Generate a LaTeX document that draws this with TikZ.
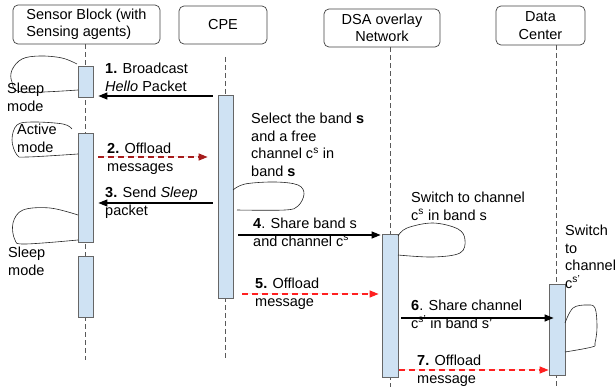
\documentclass[tikz,border=0pt]{standalone}
\usepackage{fontspec}
\setmainfont{Liberation Sans}
\usetikzlibrary{arrows.meta}
\definecolor{barfill}{HTML}{CFE2F3}
\definecolor{bardraw}{HTML}{666666}
\definecolor{darkred}{HTML}{A61C1C}
\definecolor{brightred}{HTML}{FF2020}
\newcommand\fs{\fontsize{14.5}{17.5}\selectfont}
\begin{document}
\begin{tikzpicture}[x=1pt,y=-1pt,
 hdr/.style={draw=black!75, line width=0.7pt, rounded corners=5pt, inner sep=0, font=\fs},
 actbar/.style={draw=bardraw, fill=barfill, line width=0.8pt, inner sep=0, minimum width=15pt},
 life/.style={draw=black!65, line width=0.7pt, dash pattern=on 5pt off 3pt},
 lbl/.style={anchor=north west, inner sep=0, align=left, font=\fs},
 msg/.style={line width=1.2pt, -{Triangle[length=9pt,width=7pt]}},
 dmsg/.style={msg, dash pattern=on 6pt off 4pt},
 freeloop/.style={draw=black!85, line width=0.6pt},
]
\useasboundingbox (0,0) rectangle (616,387);

% headers
\node[hdr, minimum width=147pt, minimum height=39pt, align=left] (sb) at (86.5,24.5) {Sensor Block (with\\Sensing agents)};
\node[hdr, minimum width=88pt, minimum height=38pt] (cpe) at (223,25) {CPE};
\node[hdr, minimum width=116pt, minimum height=38pt, align=center] (dsa) at (382,28) {DSA overlay\\Network};
\node[hdr, minimum width=89pt, minimum height=39pt, align=center] (dc) at (540.5,25.5) {Data\\Center};

% lifelines
\draw[life] (sb.south -| 85.5,0) -- (85.5,360);
\draw[life] (225.5,57) -- (225.5,358);
\draw[life] (dsa.south -| 390,0) -- (390,387);
\draw[life] (dc.south -| 556,0) -- (556,387);

% activation bars
\node[actbar, minimum height=31pt] (sb1) at (85.5,81.5) {};
\node[actbar, minimum height=109pt] (sb2) at (85.5,187.5) {};
\node[actbar, minimum height=61pt] (sb3) at (85.5,286.5) {};
\node[actbar, minimum height=203pt] (cpeb) at (225.5,196.5) {};
\node[actbar, minimum height=143pt, minimum width=16pt] (dsab) at (390,305.5) {};
\node[actbar, minimum height=91pt, minimum width=16pt] (dcb) at (557,329.5) {};

% freehand loops
\draw[freeloop] plot[smooth, tension=0.6] coordinates {(77,64) (62,58) (40,56) (22,59) (12,70) (12,82) (22,92) (78,90)};
\draw[freeloop] plot[smooth, tension=0.6] coordinates {(72,129) (63,124) (33,122) (17,125) (12,140) (17,155) (27,157) (78,154)};
\draw[freeloop] plot[smooth, tension=0.6] coordinates {(78,215) (50,208) (23,210) (13,223) (15,240) (25,244) (78,240)};
\draw[freeloop] plot[smooth, tension=0.6] coordinates {(233,190) (245,184) (275,182) (298,185) (304,194) (298,206) (285,210) (237,210)};
\draw[freeloop] plot[smooth, tension=0.6] coordinates {(398,236) (407,228) (433,223) (458,229) (465,240) (460,253) (433,257) (398,255)};
\draw[freeloop] plot[smooth, tension=0.6] coordinates {(565,323) (573,308) (587,305) (595,308) (597,327) (595,343) (592,347) (565,352)};

% messages
\draw[msg, shorten <=5pt, shorten >=5pt] (cpeb.west |- 0,96) -- (sb1.east |- 0,96);
\draw[dmsg, draw=darkred, fill=darkred, shorten <=5pt, shorten >=10pt] (sb2.east |- 0,157) -- (cpeb.west |- 0,157);
\draw[msg, shorten <=5pt, shorten >=5pt] (cpeb.west |- 0,203) -- (sb2.east |- 0,203);
\draw[msg, shorten <=5pt, shorten >=1pt] (cpeb.east |- 0,235) -- (dsab.west |- 0,235);
\draw[dmsg, draw=brightred, fill=brightred, shorten <=9pt, shorten >=3pt] (cpeb.east |- 0,294) -- (dsab.west |- 0,294);
\draw[msg, shorten <=3pt, shorten >=-5pt] (dsab.east |- 0,318) -- (dcb.west |- 0,318);
\draw[dmsg, draw=brightred, fill=brightred, shorten <=1pt, shorten >=0pt] (dsab.east |- 0,370) -- (dcb.west |- 0,370);

% message labels
\node[lbl] (l1) at (105,63) {\textbf{1.} Broadcast\\\textit{Hello} Packet};
\node[lbl] (l2) at (107,143) {\textbf{2.} Offload\\messages};
\node[lbl] (l3) at (105,187) {\textbf{3.} Send \textit{Sleep}\\packet};
\node[lbl] (l4) at (253,218) {\textbf{4}. Share band s\\and channel c\textsuperscript{s}};
\node[lbl] (l5) at (255,278) {\textbf{5.} Offload\\message};
\node[lbl] (l6) at (411,300) {\textbf{6}. Share channel\\c\textsuperscript{s'} in band s'};
\node[lbl] (l7) at (417,355) {\textbf{7.} Offload\\message};

% notes
\node[lbl] (n1) at (7,83) {Sleep\\mode};
\node[lbl] (n2) at (17,124) {Active\\mode};
\node[lbl] (n3) at (8,247) {Sleep\\mode};
\node[lbl] (n4) at (251,113) {Select the band \textbf{s}\\and a free\\channel c\textsuperscript{s} in\\band \textbf{s}};
\node[lbl] (n5) at (411,192) {Switch to channel\\c\textsuperscript{s} in band s};
\node[lbl] (n6) at (565,225) {Switch\\to\\channel\\c\textsuperscript{s'}};
\end{tikzpicture}
\end{document}
